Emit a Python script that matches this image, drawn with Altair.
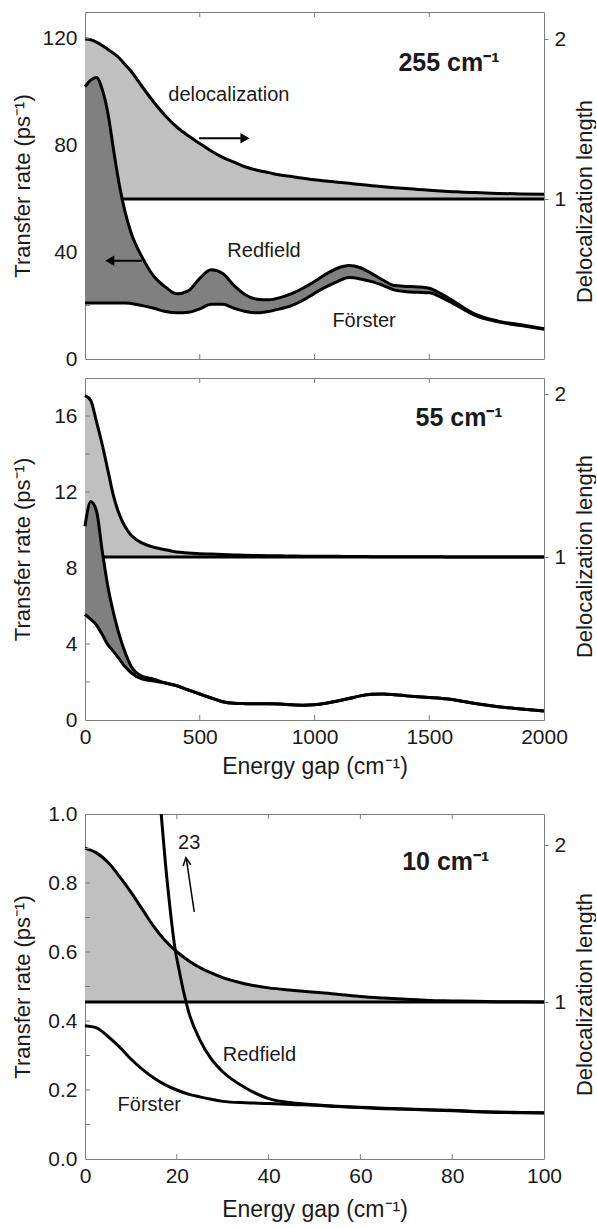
import altair as alt
import pandas as pd

FONT = "Liberation Sans"
FRAME = "#7f7f7f"
LIGHT = "#c0c0c0"
DARK = "#808080"
INK = "#1a1a1a"
W = 459
H1, H2, H3 = 347, 342, 345

# ---------------- Panel 1 : 255 cm-1 ----------------
e1 = [0, 25, 50, 75, 100, 125, 150, 175, 200, 250, 300, 350, 400, 450, 500, 550, 600, 650, 700,
      750, 800, 850, 900, 950, 1000, 1050, 1100, 1150, 1200, 1250, 1300, 1350, 1400, 1450, 1500,
      1550, 1600, 1650, 1700, 1800, 1900, 2000]
redfield1 = [102, 104.5, 105.5, 101, 92, 78, 65, 55, 47.5, 38, 31, 27, 24.4, 25.5, 30.2, 33.4, 32,
             27.5, 24, 22.4, 22.2, 23, 24.5, 26.5, 29, 31.8, 34, 35, 34.2, 32, 29.5, 27.5, 27.2, 27,
             26.5, 24.5, 22, 19.2, 16.8, 14.2, 12.8, 11.3]
forster1 = [21, 21, 21, 21, 21, 21, 21, 21, 20.8, 20, 19, 17.8, 17.3, 17.5, 18.8, 20.5, 20.5, 19,
            17.8, 17.3, 17.8, 18.8, 20, 22, 24.6, 27, 29, 30.5, 30, 29, 27.5, 25.8, 25.2, 25, 24.8,
            23.2, 21, 18.6, 16.3, 13.9, 12.5, 11.1]
deloc1 = [2.0, 1.995, 1.98, 1.96, 1.935, 1.91, 1.88, 1.84, 1.80, 1.70, 1.605, 1.52, 1.45, 1.395,
          1.347, 1.30, 1.26, 1.23, 1.20, 1.18, 1.165, 1.15, 1.14, 1.13, 1.12, 1.112, 1.105, 1.098,
          1.09, 1.083, 1.076, 1.07, 1.065, 1.06, 1.055, 1.05, 1.046, 1.042, 1.04, 1.035, 1.032, 1.03]

# ---------------- Panel 2 : 55 cm-1 ----------------
e2 = [0, 25, 50, 75, 100, 125, 150, 175, 200, 250, 300, 350, 400, 450, 500, 550, 600, 650, 700,
      750, 800, 850, 900, 950, 1000, 1050, 1100, 1150, 1200, 1250, 1300, 1350, 1400, 1450, 1500,
      1550, 1600, 1650, 1700, 1800, 1900, 2000]
redfield2 = [10.2, 11.5, 11.0, 8.9, 7.0, 5.6, 4.45, 3.55, 2.85, 2.3, 2.15, 1.95, 1.8, 1.58, 1.37,
             1.16, 0.96, 0.88, 0.86, 0.85, 0.85, 0.84, 0.8, 0.78, 0.8, 0.88, 1.0, 1.13, 1.27, 1.35,
             1.37, 1.33, 1.27, 1.22, 1.18, 1.14, 1.08, 0.97, 0.87, 0.7, 0.58, 0.47]
forster2 = [5.55, 5.3, 5.0, 4.5, 3.95, 3.6, 3.2, 2.8, 2.5, 2.15, 2.05, 1.95, 1.8, 1.58, 1.37, 1.16,
            0.96, 0.88, 0.86, 0.85, 0.85, 0.84, 0.8, 0.78, 0.8, 0.88, 1.0, 1.13, 1.27, 1.35, 1.37,
            1.33, 1.27, 1.22, 1.18, 1.14, 1.08, 0.97, 0.87, 0.7, 0.58, 0.47]
deloc2 = [1.99, 1.96, 1.83, 1.69, 1.53, 1.37, 1.26, 1.185, 1.135, 1.085, 1.06, 1.045, 1.03, 1.025,
          1.02, 1.018, 1.015, 1.013, 1.01, 1.009, 1.008, 1.007, 1.006, 1.005, 1.005, 1.004, 1.004,
          1.003, 1.003, 1.002, 1.002, 1.002, 1.001, 1.001, 1.001, 1.001, 1.0, 1.0, 1.0, 1.0, 1.0, 1.0]

# ---------------- Panel 3 : 10 cm-1 ----------------
e3 = [0, 2.5, 5, 7.5, 10, 12.5, 15, 17.5, 20, 22.5, 25, 27.5, 30, 35, 40, 45, 50, 55, 60, 65, 70,
      75, 80, 85, 90, 95, 100]
forster3 = [0.386, 0.38, 0.355, 0.325, 0.29, 0.26, 0.235, 0.215, 0.2, 0.188, 0.18, 0.173, 0.167,
            0.163, 0.161, 0.158, 0.156, 0.152, 0.149, 0.146, 0.144, 0.142, 0.14, 0.137, 0.135,
            0.134, 0.133]
deloc3 = [1.98, 1.95, 1.89, 1.80, 1.70, 1.59, 1.48, 1.39, 1.32, 1.265, 1.22, 1.185, 1.155, 1.115,
          1.09, 1.075, 1.062, 1.05, 1.035, 1.025, 1.017, 1.01, 1.007, 1.004, 1.002, 1.001, 1.0]
e3_red = [16.6, 17.5, 18.5, 19.5, 20.5, 21.5, 22.5, 25, 27.5, 30, 35, 40, 45, 50, 55, 60, 65, 70,
          75, 80, 85, 90, 95, 100]
redfield3 = [1.0, 0.86, 0.73, 0.62, 0.548, 0.484, 0.43, 0.346, 0.29, 0.253, 0.206, 0.175, 0.163,
             0.157, 0.153, 0.15, 0.147, 0.145, 0.143, 0.141, 0.138, 0.136, 0.135, 0.134]

# annotations
ann1_t = ["delocalization", "Redfield", "Förster"]
ann1_x = [627, 780, 1216]
ann1_y = [99, 40.6, 14.3]
lab1 = "255 cm⁻¹"; lab1_x = 1586; lab1_y = 111
lab2 = "55 cm⁻¹"; lab2_x = 1630; lab2_y = 15.9
ann3_t = ["Redfield", "Förster", "23"]
ann3_x = [38, 14, 22.7]
ann3_y = [0.301, 0.157, 0.916]
lab3 = "10 cm⁻¹"; lab3_x = 78.6; lab3_y = 0.861

XTITLE = "Energy gap (cm⁻¹)"
YTITLE = "Transfer rate (ps⁻¹)"
RTITLE = "Delocalization length"


def left_axis(vals, fmt):
    return alt.Axis(orient="left", values=vals, format=fmt, ticks=False, domain=False, grid=False,
                    labelFontSize=21, labelPadding=8, labelFlush=False, title=YTITLE,
                    titleFontSize=22, titlePadding=6, minExtent=45, maxExtent=45)


def right_axis(ty):
    return alt.Axis(orient="right", values=[1, 2], format="d", ticks=True, tickSize=4,
                    tickColor=FRAME, domain=False, grid=False, labelFontSize=21, labelPadding=6,
                    labelFlush=False, title=RTITLE, titleFontSize=22, titlePadding=6,
                    titleAngle=270, titleBaseline="top", titleY=ty, minExtent=24, maxExtent=24)


def bottom_axis(vals, tpad):
    return alt.Axis(orient="bottom", values=vals, format="d", ticks=False, domain=False,
                    grid=False, labelFontSize=21, labelPadding=6, labelFlush=False, title=XTITLE,
                    titleFontSize=23, titlePadding=tpad)


def tick_layers(xvals, xsc, xax, yvals, ysc, yax, h, L=5):
    dx = pd.DataFrame({"t": xvals})
    dy = pd.DataFrame({"t": yvals})
    top = alt.Chart(dx).mark_rule(color=FRAME, strokeWidth=1).encode(
        x=alt.X("t:Q", scale=xsc, axis=xax), y=alt.value(0), y2=alt.value(L))
    bot = alt.Chart(dx).mark_rule(color=FRAME, strokeWidth=1).encode(
        x=alt.X("t:Q", scale=xsc, axis=xax), y=alt.value(h), y2=alt.value(h - L))
    lft = alt.Chart(dy).mark_rule(color=FRAME, strokeWidth=1).encode(
        y=alt.Y("t:Q", scale=ysc, axis=yax), x=alt.value(0), x2=alt.value(L))
    return [top, bot, lft]


def text_layer(xs, ys, ts, xsc, xax, ysc, yax, size=20, weight="normal"):
    d = pd.DataFrame({"x": xs, "y": ys, "t": ts})
    return alt.Chart(d).mark_text(font=FONT, fontSize=size, fontWeight=weight, color=INK,
                                  align="center", baseline="middle").encode(
        x=alt.X("x:Q", scale=xsc, axis=xax), y=alt.Y("y:Q", scale=ysc, axis=yax), text="t:N")


def arrow(xs, ys, xsc, xax, ysc, yax, width=2):
    d = pd.DataFrame({"x": xs, "y": ys})
    return alt.Chart(d).mark_line(color="black", strokeWidth=width).encode(
        x=alt.X("x:Q", scale=xsc, axis=xax), y=alt.Y("y:Q", scale=ysc, axis=yax))


def head(x, y, shape, xsc, xax, ysc, yax, size=110, filled=True, angle=0):
    d = pd.DataFrame({"x": [x], "y": [y]})
    return alt.Chart(d).mark_point(shape=shape, size=size, filled=filled, color="black",
                                   opacity=1, strokeWidth=1.5, angle=angle).encode(
        x=alt.X("x:Q", scale=xsc, axis=xax), y=alt.Y("y:Q", scale=ysc, axis=yax))


def line(df, col, xsc, xax, ysc, yax, **kw):
    return alt.Chart(df).mark_line(color="black", strokeWidth=3, interpolate="monotone",
                                   **kw).encode(
        x=alt.X("E:Q", scale=xsc, axis=xax), y=alt.Y(col + ":Q", scale=ysc, axis=yax))


def deloc_group(df, xsc, xax, ysc, ty):
    rax = right_axis(ty)
    light = alt.Chart(df).mark_area(color=LIGHT, interpolate="monotone").encode(
        x=alt.X("E:Q", scale=xsc, axis=xax),
        y=alt.Y("D:Q", scale=ysc, axis=rax), y2="base:Q")
    dl = line(df, "D", xsc, xax, ysc, rax)
    bl = alt.Chart(pd.DataFrame({"D": [1.0]})).mark_rule(color="black", strokeWidth=3).encode(
        y=alt.Y("D:Q", scale=ysc, axis=rax))
    return alt.layer(light, bl, dl)


# ---------- panel 1 ----------
xs1 = alt.Scale(domain=[0, 2000], nice=False, zero=False)
yl1 = alt.Scale(domain=[0, 130], nice=False, zero=False)
yr1 = alt.Scale(domain=[0, 347 / 160], nice=False, zero=False)
xa1 = None
ya1 = left_axis([0, 40, 80, 120], "d")
df1 = pd.DataFrame({"E": e1, "R": redfield1, "F": forster1, "D": deloc1, "base": 1.0})

right1 = deloc_group(df1, xs1, xa1, yr1, 189)
dark1 = alt.Chart(df1).mark_area(color=DARK, interpolate="monotone").encode(
    x=alt.X("E:Q", scale=xs1, axis=xa1),
    y=alt.Y("R:Q", scale=yl1, axis=ya1), y2="F:Q")
left1 = alt.layer(
    dark1, line(df1, "R", xs1, xa1, yl1, ya1), line(df1, "F", xs1, xa1, yl1, ya1),
    *tick_layers([500, 1000, 1500], xs1, xa1, [20, 40, 60, 80, 100, 120], yl1, ya1, H1),
    text_layer(ann1_x, ann1_y, ann1_t, xs1, xa1, yl1, ya1),
    text_layer([lab1_x], [lab1_y], [lab1], xs1, xa1, yl1, ya1, size=25, weight="bold"),
    arrow([497, 690], [82.7, 82.7], xs1, xa1, yl1, ya1),
    head(697, 82.7, "triangle-right", xs1, xa1, yl1, ya1),
    arrow([126, 248], [36.8, 36.8], xs1, xa1, yl1, ya1),
    head(108, 36.8, "triangle-left", xs1, xa1, yl1, ya1),
)
panel1 = alt.layer(right1, left1).resolve_scale(y="independent").properties(width=W, height=H1)

# ---------- panel 2 ----------
xs2 = alt.Scale(domain=[0, 2000], nice=False, zero=False)
yl2 = alt.Scale(domain=[0, 18], nice=False, zero=False)
yr2 = alt.Scale(domain=[0, 342 / 163], nice=False, zero=False)
xa2 = bottom_axis([0, 500, 1000, 1500, 2000], 8)
ya2 = left_axis([0, 4, 8, 12, 16], "d")
df2 = pd.DataFrame({"E": e2, "R": redfield2, "F": forster2, "D": deloc2, "base": 1.0})

right2 = deloc_group(df2, xs2, xa2, yr2, 178)
dark2 = alt.Chart(df2).mark_area(color=DARK, interpolate="monotone").encode(
    x=alt.X("E:Q", scale=xs2, axis=xa2),
    y=alt.Y("R:Q", scale=yl2, axis=ya2), y2="F:Q")
left2 = alt.layer(
    dark2, line(df2, "R", xs2, xa2, yl2, ya2), line(df2, "F", xs2, xa2, yl2, ya2),
    *tick_layers([500, 1000, 1500], xs2, xa2, [2, 4, 6, 8, 10, 12, 14, 16], yl2, ya2, H2),
    text_layer([lab2_x], [lab2_y], [lab2], xs2, xa2, yl2, ya2, size=25, weight="bold"),
)
panel2 = alt.layer(right2, left2).resolve_scale(y="independent").properties(width=W, height=H2)

# ---------- panel 3 ----------
xs3 = alt.Scale(domain=[0, 100], nice=False, zero=False)
yl3 = alt.Scale(domain=[0, 1.0], nice=False, zero=False)
yr3 = alt.Scale(domain=[0, 345 / 157], nice=False, zero=False)
xa3 = bottom_axis([0, 20, 40, 60, 80, 100], 12)
ya3 = left_axis([0, 0.2, 0.4, 0.6, 0.8, 1.0], ".1f")
df3 = pd.DataFrame({"E": e3, "F": forster3, "D": deloc3, "base": 1.0})
df3r = pd.DataFrame({"E": e3_red, "R": redfield3})

right3 = deloc_group(df3, xs3, xa3, yr3, 180)
left3 = alt.layer(
    line(df3, "F", xs3, xa3, yl3, ya3),
    line(df3r, "R", xs3, xa3, yl3, ya3, clip=True),
    *tick_layers([20, 40, 60, 80], xs3, xa3, [0.1, 0.2, 0.3, 0.4, 0.5, 0.6, 0.7, 0.8, 0.9],
                 yl3, ya3, H3),
    text_layer(ann3_x, ann3_y, ann3_t, xs3, xa3, yl3, ya3),
    text_layer([lab3_x], [lab3_y], [lab3], xs3, xa3, yl3, ya3, size=25, weight="bold"),
    arrow([23.8, 22.1], [0.716, 0.868], xs3, xa3, yl3, ya3, width=1.5),
    head(22.1, 0.862, "M-1,1L0,-1L1,1", xs3, xa3, yl3, ya3, size=60, filled=False, angle=352),
)
panel3 = alt.layer(right3, left3).resolve_scale(y="independent").properties(width=W, height=H3)

upper = alt.vconcat(panel1, panel2, spacing=7)
chart = alt.vconcat(upper, panel3, spacing=23).properties(
    padding={"left": 10, "top": 11, "right": 0, "bottom": 0}
).configure_view(stroke=FRAME, strokeWidth=1).configure_axis(
    labelFont=FONT, titleFont=FONT, labelColor=INK, titleColor=INK, titleFontWeight="normal"
)

chart.save("out.html", embed_options={"renderer": "svg", "actions": False})
